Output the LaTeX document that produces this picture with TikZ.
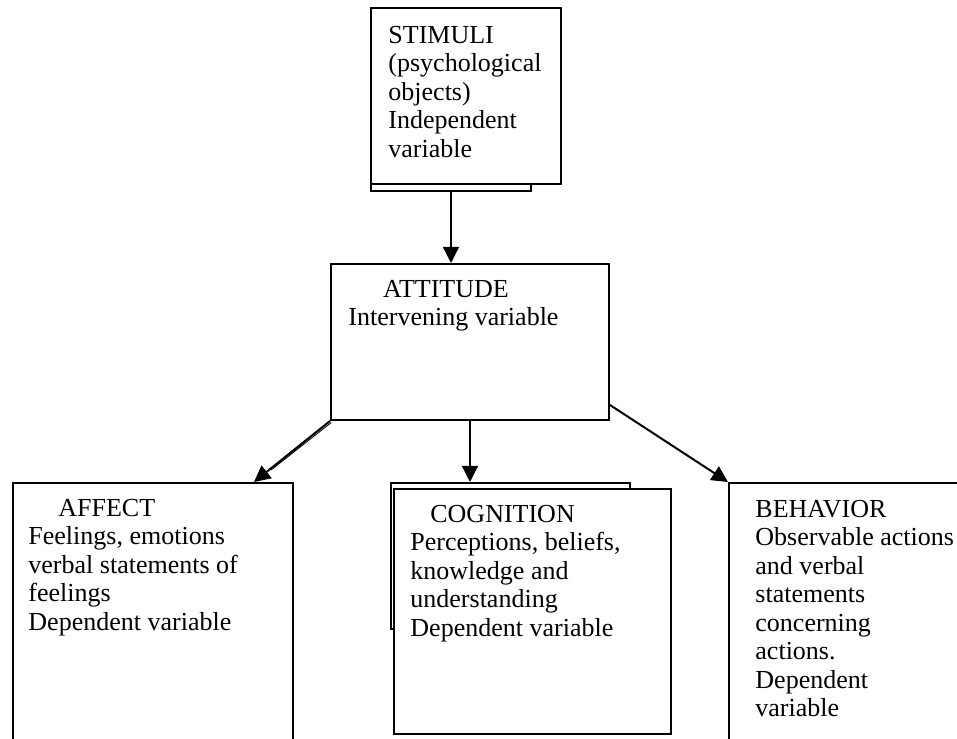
\documentclass[tikz,border=0pt]{standalone}
\usepackage{fontspec}
\setmainfont{Liberation Serif}
\usepackage{tikz}
\usetikzlibrary{arrows.meta}
\usetikzlibrary{calc}

\newcommand{\unitpx}{0.4615pt}
\newcommand{\boxfont}{\fontsize{12}{13.15}\selectfont}

\begin{document}
\begin{tikzpicture}[x=\unitpx,y=-\unitpx,
        box/.style={draw, line width=0.92pt, fill=white, rectangle, inner sep=0, anchor=north west},
        txt/.style={inner sep=0, anchor=north west, align=left, font=\boxfont},
        arr/.style={line width=0.92pt, -{Triangle[length=7.5pt,width=7.4pt]}}]
        \useasboundingbox (0,0) rectangle (957,738);
        \clip (0,0) rectangle (957,738);

        % boxes
        \node[box, minimum width=160*\unitpx, minimum height=180*\unitpx] (stimback) at (370,10) {};
        \node[box, minimum width=190*\unitpx, minimum height=176*\unitpx] (stim) at (370,7) {};
        \node[box, minimum width=278*\unitpx, minimum height=156*\unitpx] (att) at (330,263) {};
        \node[box, minimum width=280*\unitpx, minimum height=300*\unitpx] (aff) at (12,482) {};
        \node[box, minimum width=239*\unitpx, minimum height=146*\unitpx] (cogback) at (390,482) {};
        \node[box, minimum width=277*\unitpx, minimum height=245*\unitpx] (cog) at (393,488) {};
        \node[box, minimum width=260*\unitpx, minimum height=300*\unitpx] (beh) at (728,482) {};

        % texts
        \node[txt] (stimtxt) at (388,23) {\strut STIMULI\\(psychological\\objects)\\Independent\\variable};
        \node[txt] (atttxt) at (348,277) {\strut\hspace*{16pt}ATTITUDE\\Intervening variable};
        \node[txt] (afftxt) at (28,496) {\strut\hspace*{13.8pt}AFFECT\\Feelings, emotions\\verbal statements of\\feelings\\Dependent variable};
        \node[txt] (cogtxt) at (410,502) {\strut\hspace*{9.2pt}COGNITION\\Perceptions, beliefs,\\knowledge and\\understanding\\Dependent variable};
        \node[txt] (behtxt) at (755,497) {\strut BEHAVIOR\\Observable actions\\and verbal\\statements\\concerning\\actions.\\Dependent\\variable};

        % arrows
        \draw[arr] (stimback.south) -- (stimback.south |- att.north);
        \draw[arr] (att.south) -- (att.south |- cogback.north);
        \draw[arr] (att.south west) -- ($(aff.north east)+(-40,0)$);
        \draw[line width=0.4pt] ($(att.south west)+(1.2,1.6)$) -- ($(aff.north east)+(-23,-12)$);
        \draw[arr] ($(att.south east)+(0,-16)$) -- (beh.north west);
\end{tikzpicture}
\end{document}
